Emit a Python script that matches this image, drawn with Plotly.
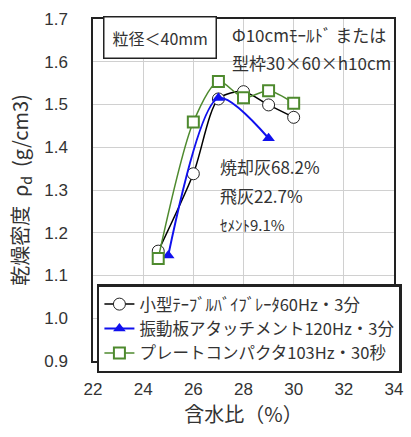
import plotly.graph_objects as go

# data
s1_name = "小型ﾃｰﾌﾞﾙﾊﾞｲﾌﾞﾚｰﾀ60Hz・3分"
s1_x = [24.6, 26.0, 27.0, 28.0, 29.0, 30.0]
s1_y = [1.157, 1.338, 1.513, 1.530, 1.499, 1.470]

s2_name = "振動板アタッチメント120Hz・3分"
s2_x = [25.0, 27.0, 29.0]
s2_y = [1.147, 1.515, 1.421]

s3_name = "プレートコンパクタ103Hz・30秒"
s3_x = [24.6, 26.0, 27.0, 28.0, 29.0, 30.0]
s3_y = [1.140, 1.459, 1.554, 1.516, 1.532, 1.503]

x_ticks = [22, 24, 26, 28, 30, 32, 34]
y_ticks = [0.9, 1.0, 1.1, 1.2, 1.3, 1.4, 1.5, 1.6, 1.7]

JP = "Noto Sans CJK JP"
fig = go.Figure()
fig.add_trace(go.Scatter(x=s1_x, y=s1_y, name=s1_name, mode="lines+markers",
                         line=dict(color="black", width=1.5, shape="spline", smoothing=0.8),
                         marker=dict(symbol="circle", size=12, color="white",
                                     line=dict(color="#222", width=1))))
fig.add_trace(go.Scatter(x=s2_x, y=s2_y, name=s2_name, mode="lines+markers",
                         line=dict(color="#1010ee", width=2, shape="spline", smoothing=0.8),
                         marker=dict(symbol="triangle-up", size=11, color="#1010ee")))
fig.add_trace(go.Scatter(x=s3_x, y=s3_y, name=s3_name, mode="lines+markers",
                         line=dict(color="#4e8a2e", width=1.5, shape="spline", smoothing=0.8),
                         marker=dict(symbol="square", size=11, color="white",
                                     line=dict(color="#4e8a2e", width=2))))

fig.update_layout(
    width=411, height=437,
    margin=dict(l=93, r=8, t=19, b=76),
    paper_bgcolor="white", plot_bgcolor="white",
    font=dict(family=JP, color="#333", size=15),
    xaxis=dict(range=[22, 34], tickvals=x_ticks, showgrid=True, gridcolor="#d0d0d0",
               showline=True, linecolor="#222", linewidth=1.5, mirror=True, ticks="",
               ticklabelstandoff=12,
               tickfont=dict(size=17, family="Liberation Sans", color="#333"),
               title=dict(text="含水比（%）", font=dict(size=20, family=JP), standoff=10),
               zeroline=False),
    yaxis=dict(range=[0.9, 1.7], tickvals=y_ticks, tickformat=".1f", showgrid=True,
               gridcolor="#d0d0d0", showline=True, linecolor="#222", linewidth=1.5,
               mirror=True, ticks="", ticklabelstandoff=20,
               tickfont=dict(size=17, family="Liberation Sans", color="#333"),
               title=dict(text="乾燥密度  ρ<sub>d</sub>  (g/cm3)", font=dict(size=20, family=JP),
                          standoff=10),
               zeroline=False),
    legend=dict(x=0.013, y=0.224, xanchor="left", yanchor="top", bgcolor="white",
                bordercolor="#222", borderwidth=2.5, font=dict(size=16.5, family=JP),
                tracegroupgap=0, itemwidth=30),
    showlegend=True,
)

fig.add_annotation(x=0.033, y=0.945, xref="paper", yref="paper", text="粒径＜40mm",
                   showarrow=False, xanchor="left", yanchor="middle",
                   font=dict(size=16, family=JP), bordercolor="#222", borderwidth=1.5,
                   borderpad=8, bgcolor="white")
fig.add_annotation(x=0.455, y=0.955, xref="paper", yref="paper", text="Φ10cmﾓｰﾙﾄﾞ または",
                   showarrow=False, xanchor="left", yanchor="middle", font=dict(size=17, family=JP))
fig.add_annotation(x=0.455, y=0.872, xref="paper", yref="paper", text="型枠30×60×h10cm",
                   showarrow=False, xanchor="left", yanchor="middle", font=dict(size=17, family=JP))
fig.add_annotation(x=0.415, y=0.568, xref="paper", yref="paper", text="焼却灰68.2%",
                   showarrow=False, xanchor="left", yanchor="middle", font=dict(size=17, family=JP))
fig.add_annotation(x=0.415, y=0.483, xref="paper", yref="paper", text="飛灰22.7%",
                   showarrow=False, xanchor="left", yanchor="middle", font=dict(size=17, family=JP))
fig.add_annotation(x=0.415, y=0.398, xref="paper", yref="paper", text="ｾﾒﾝﾄ9.1%",
                   showarrow=False, xanchor="left", yanchor="middle", font=dict(size=15, family=JP))

fig.write_html("out.html")
